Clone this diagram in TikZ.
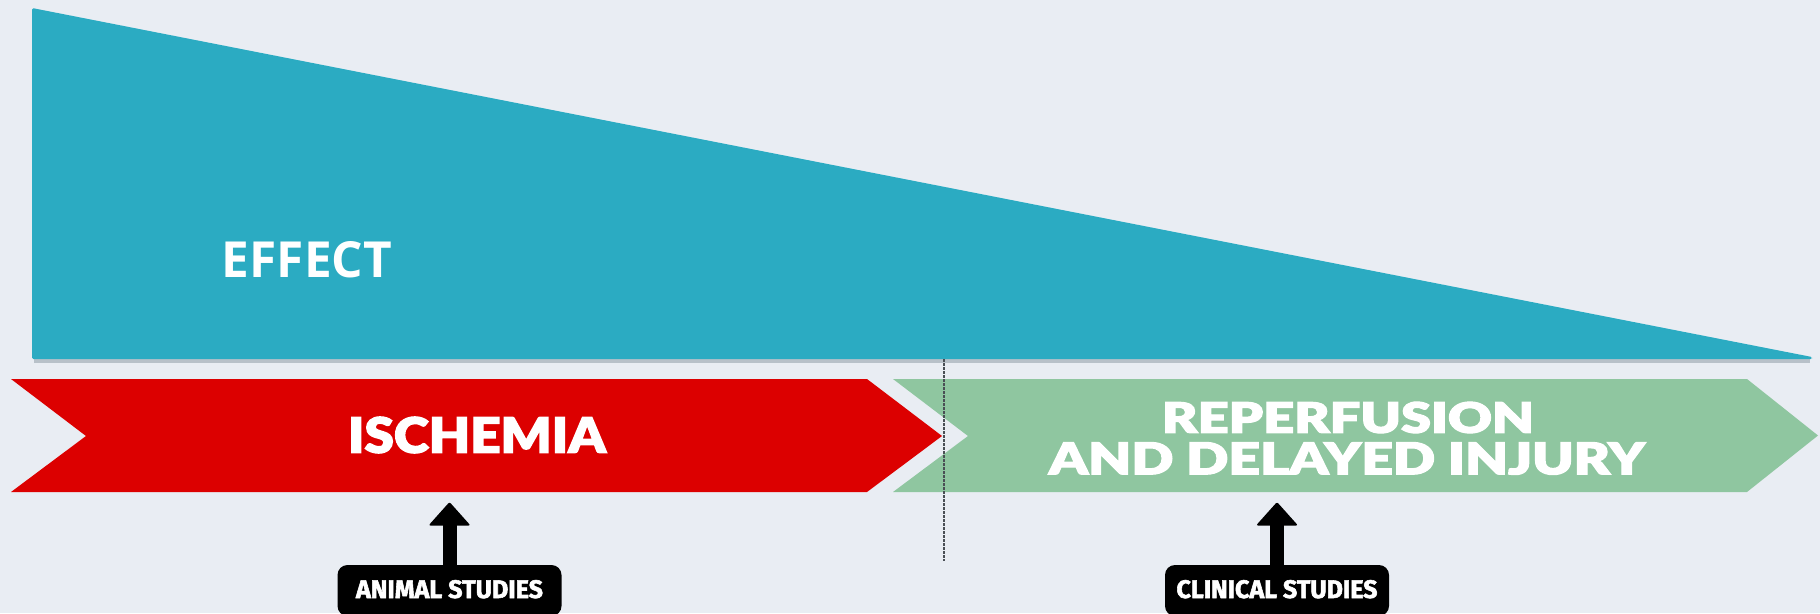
\documentclass[tikz,border=0pt]{standalone}
\usepackage{fontspec}
\usepackage{graphicx}
\newfontfamily\geofont{Lato}[UprightFont={* Black},UprightFeatures={FakeBold=2.5}]
\newfontfamily\effectfont{Open Sans}
\newfontfamily\condfont{Fira Sans}[BoldFeatures={FakeBold=2.2}]
\definecolor{bgc}{HTML}{E9EDF3}
\definecolor{tealc}{HTML}{2BABC2}
\definecolor{redc}{HTML}{DC0000}
\definecolor{greenc}{HTML}{8FC6A0}
\definecolor{shadowc}{HTML}{7E8C98}
\definecolor{dashc}{HTML}{4A4F55}
\begin{document}
\begin{tikzpicture}[x=1pt,y=-1pt,
  lbl/.style={inner sep=0pt, outer sep=0pt, text=white},
  studybox/.style={fill=black, rounded corners=10pt, inner sep=0pt, outer sep=0pt,
    text=white, minimum width=224pt, minimum height=51pt},
  shaft/.style={line width=14pt, black},
  head/.style={fill=black, rounded corners=2pt},
  dashline/.style={dashc, line width=1.3pt, dash pattern=on 2.5pt off 1.5pt}
]
\useasboundingbox (0,0) rectangle (1820,613);
\clip (0,0) rectangle (1820,613);
\fill[bgc] (0,0) rectangle (1820,613);
% effect wedge with soft shadow
\fill[shadowc, opacity=0.45] (34,358) -- (1810,358) -- (1810,362.5) -- (34,362.5) -- cycle;
\fill[tealc, rounded corners=1.5pt] (32,8) -- (1812,357) -- (1812,359) -- (32,359) -- cycle;
\node[lbl] (effect) at (307,260) {\resizebox{170pt}{36pt}{\effectfont\bfseries EFFECT}};
% phase chevrons
\fill[redc] (11,379) -- (867,379) -- (942,436) -- (867,492) -- (11,492) -- (86,436) -- cycle;
\fill[greenc] (893,379) -- (1747,379) -- (1818,435.5) -- (1747,492) -- (893,492) -- (968,436) -- cycle;
\node[lbl] (isch) at (477,435) {\resizebox{258pt}{36pt}{\geofont ISCHEMIA}};
\node[lbl] (reperf) at (1348,417.5) {\resizebox{372pt}{31pt}{\geofont REPERFUSION}};
\node[lbl] (delayed) at (1347,458.5) {\resizebox{596pt}{32pt}{\geofont AND DELAYED INJURY}};
% boundary
\coordinate (dtop) at (944,359);
\coordinate (dbot) at (944,561);
\draw[dashline] (dtop) -- (dbot);
% study boxes and arrows
\node[studybox] (animal) at (449.5,590.5) {\raisebox{3pt}{\resizebox{187pt}{18pt}{\condfont\bfseries ANIMAL STUDIES}}};
\node[studybox] (clinical) at (1277,590.5) {\raisebox{3pt}{\resizebox{201pt}{18pt}{\condfont\bfseries CLINICAL STUDIES}}};
\coordinate (animaltip) at (449.5,502);
\coordinate (clinicaltip) at (1277,502);
\draw[shaft] (animal.north) -- ([yshift=-22pt]animaltip);
\fill[head] (animaltip) -- ++(21,23.5) -- ++(-42,0) -- cycle;
\draw[shaft] (clinical.north) -- ([yshift=-22pt]clinicaltip);
\fill[head] (clinicaltip) -- ++(21,23.5) -- ++(-42,0) -- cycle;
\end{tikzpicture}
\end{document}
